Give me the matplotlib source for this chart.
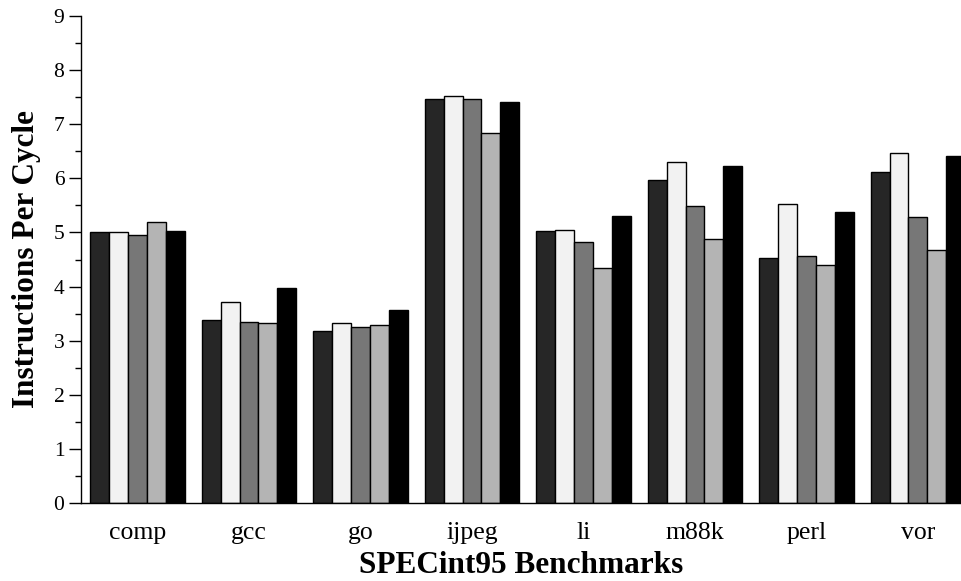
import matplotlib
matplotlib.use("Agg")
import matplotlib.pyplot as plt
import numpy as np
from matplotlib.ticker import MultipleLocator

plt.rcParams['font.family'] = ['Liberation Serif', 'DejaVu Serif']

benchmarks = ["comp", "gcc", "go", "ijpeg", "li", "m88k", "perl", "vor"]

# five configurations per benchmark, left to right
s1 = [5.00, 3.38, 3.18, 7.47, 5.02, 5.97, 4.53, 6.12]
s2 = [5.00, 3.72, 3.33, 7.52, 5.05, 6.30, 5.53, 6.47]
s3 = [4.95, 3.35, 3.26, 7.47, 4.83, 5.48, 4.57, 5.29]
s4 = [5.20, 3.33, 3.29, 6.84, 4.35, 4.87, 4.40, 4.68]
s5 = [5.03, 3.98, 3.56, 7.41, 5.30, 6.22, 5.37, 6.41]

series = [s1, s2, s3, s4, s5]
colors = ["#262626", "#f2f2f2", "#777777", "#b4b4b4", "#000000"]

fig = plt.figure(figsize=(9.61, 5.81), dpi=100)
ax = fig.add_axes([81/961, 78/581, 1 - 81/961, (503-16)/581])

x = np.arange(len(benchmarks))
w = 0.17
for k, (vals, c) in enumerate(zip(series, colors)):
    ax.bar(x + (k - 2) * w, vals, w, color=c, edgecolor="black", linewidth=1.0)

ax.set_xlim(-0.507, 7.386)
ax.set_ylim(0, 9)
ax.yaxis.set_major_locator(MultipleLocator(1))
ax.yaxis.set_minor_locator(MultipleLocator(0.5))
ax.set_xticks(x)
ax.set_xticklabels(benchmarks)
ax.tick_params(axis='x', length=0, labelsize=18.5, pad=14)
ax.tick_params(axis='y', which='major', length=9, width=1, labelsize=15.5, pad=3, direction='out')
ax.tick_params(axis='y', which='minor', length=4, width=1, direction='out')

for side in ("top", "right"):
    ax.spines[side].set_visible(False)
ax.spines['left'].set_linewidth(1)
ax.spines['bottom'].set_linewidth(1)

ax.set_xlabel("SPECint95 Benchmarks", fontsize=22.5, fontweight='bold', labelpad=5)
ax.set_ylabel("Instructions Per Cycle", fontsize=22.5, fontweight='bold', labelpad=9)

fig.savefig("out.png", dpi=100)
